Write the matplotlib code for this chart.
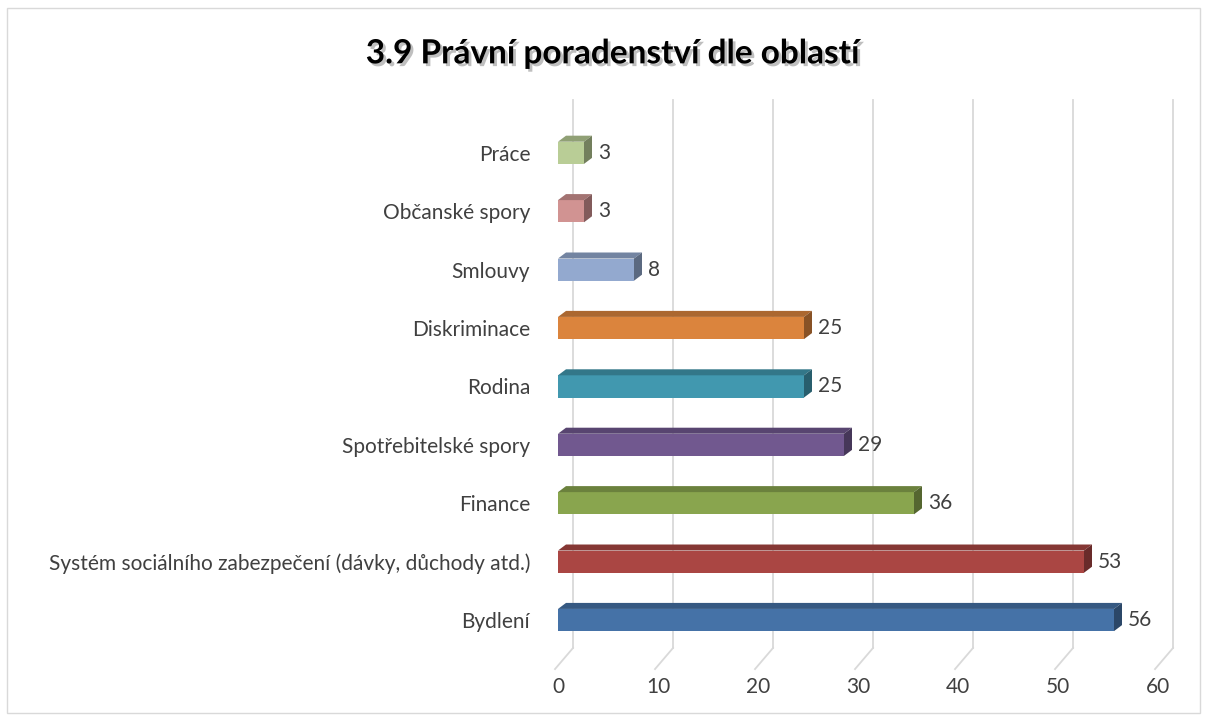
import matplotlib.pyplot as plt
import matplotlib.patheffects as pe
from matplotlib.patches import Polygon, Rectangle
from matplotlib.colors import to_rgb

# data
categories = ['Bydlení', 'Systém sociálního zabezpečení (dávky, důchody atd.)', 'Finance',
              'Spotřebitelské spory', 'Rodina', 'Diskriminace', 'Smlouvy', 'Občanské spory', 'Práce']
values = [56, 53, 36, 29, 25, 25, 8, 3, 3]
colors = ['#4572A7', '#AA4643', '#89A54E', '#71588F', '#4198AF', '#DB843D', '#93A9CF', '#D19392', '#B9CD96']
ticks = [0, 10, 20, 30, 40, 50, 60]

plt.rcParams['font.family'] = ['Lato', 'DejaVu Sans']

fig = plt.figure(figsize=(12.06, 7.18), dpi=100)
# axes = front plane of the 3d plot
ax = fig.add_axes([558 / 1206, 70 / 718, 600 / 1206, 548 / 718])
ax.set_xlim(0, 60)
ax.set_ylim(-0.479, 8.904)

# 3d depth in data units
dx = 0.8
dy = 0.103
h = 0.19
back = 1.5

# back wall gridlines and floor lines
for t in ticks:
    ax.plot([t + back, t + back], [-0.479, 8.904], color='#d9d9d9', lw=1.3, zorder=0, clip_on=False)
    ax.plot([t + back, t - 0.3], [-0.479, -0.84], color='#d9d9d9', lw=1.3, zorder=0, clip_on=False)

# bars
for i in range(len(values)):
    v = values[i]
    c = to_rgb(colors[i])
    top_c = tuple(x * 0.78 for x in c)
    side_c = tuple(x * 0.62 for x in c)
    ax.barh(i, v - 0.4, height=2 * h, color=colors[i], zorder=3)
    w = v - 0.4
    ax.add_patch(Polygon([(0, i + h), (w, i + h), (w + dx, i + h + dy), (dx, i + h + dy)],
                         closed=True, facecolor=top_c, edgecolor='none', zorder=3))
    ax.add_patch(Polygon([(w, i - h), (w, i + h), (w + dx, i + h + dy), (w + dx, i - h + dy)],
                         closed=True, facecolor=side_c, edgecolor='none', zorder=3))
    ax.text(w + dx + 0.6, i, str(v), ha='left', va='center', fontsize=15, color='#404040')

ax.set_yticks(range(len(categories)))
ax.set_yticklabels(categories, fontsize=15, color='#404040')
ax.set_xticks(ticks)
ax.set_xticklabels([str(t) for t in ticks], fontsize=15, color='#404040')
ax.tick_params(axis='y', length=0, pad=20)
ax.tick_params(axis='x', length=0, pad=21)
for s in ax.spines.values():
    s.set_visible(False)
ax.patch.set_alpha(0)

# title with shadow
fig.text(0.508, 0.925, '3.9 Právní poradenství dle oblastí', ha='center', va='center',
         fontsize=24, fontweight='bold', color='black',
         path_effects=[pe.SimplePatchShadow(offset=(2, -2), shadow_rgbFace='gray', alpha=0.5), pe.Normal()])

# chart border
fig.patches.append(Rectangle((7 / 1206, 5 / 718), 1193 / 1206, 705 / 718, transform=fig.transFigure,
                             fill=False, edgecolor='#d9d9d9', lw=1))

plt.savefig('out.png', dpi=100)
